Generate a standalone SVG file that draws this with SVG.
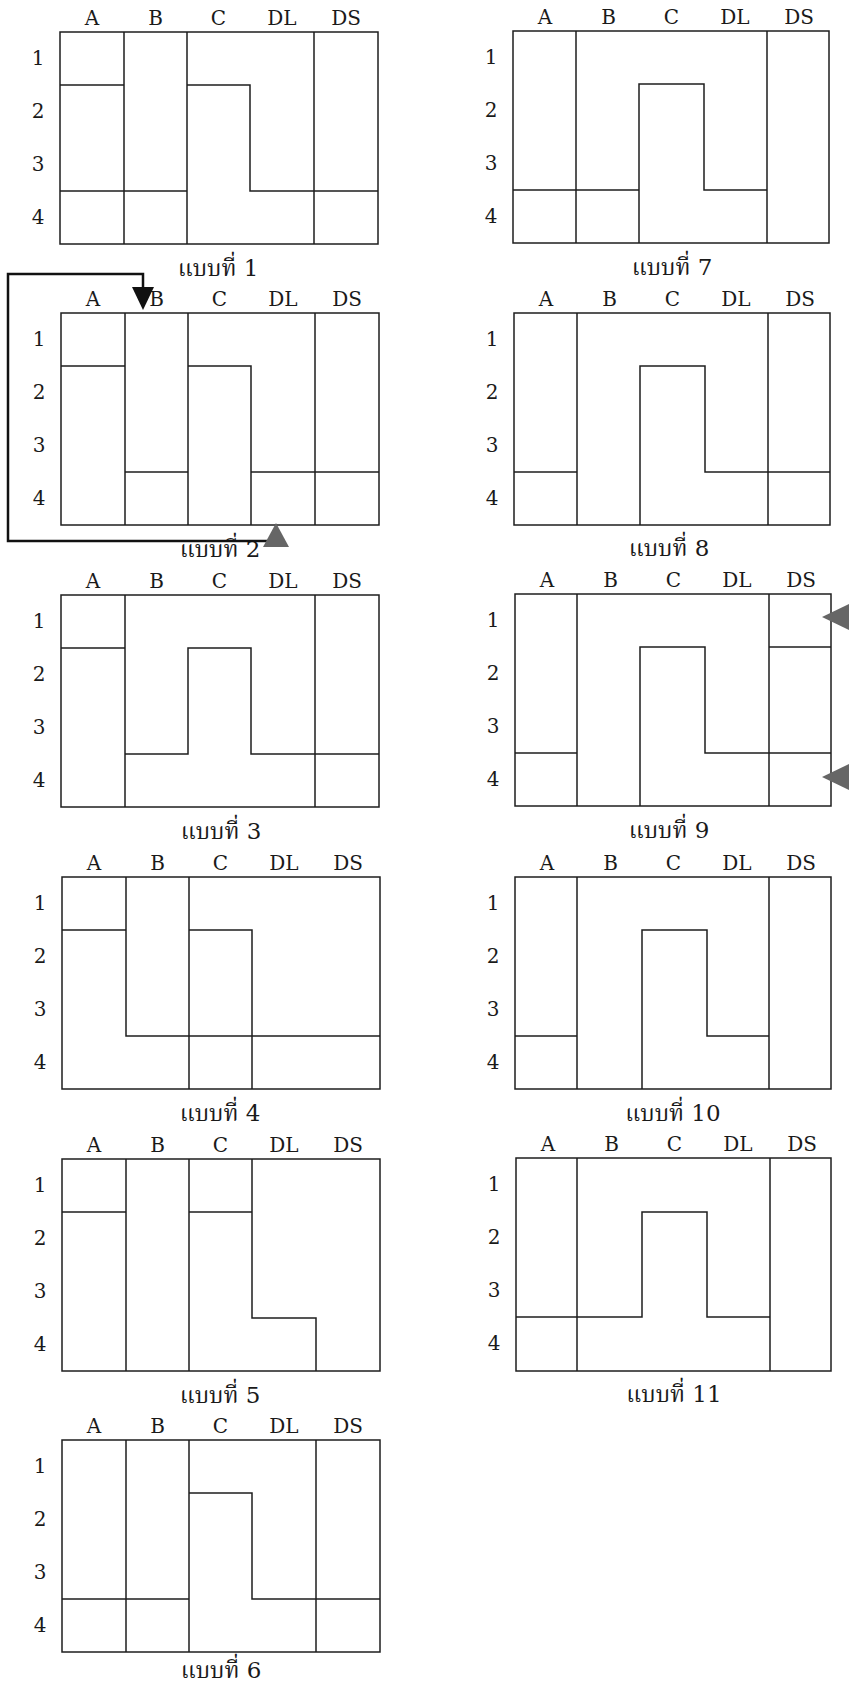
<svg xmlns="http://www.w3.org/2000/svg" width="849" height="1692" viewBox="0 0 849 1692">
<style>
.g{fill:none;stroke:#1e1e1e;stroke-width:1.5}
.h{font-family:"DejaVu Serif","Liberation Serif",serif;font-size:20px;fill:#1a1a1a;text-anchor:middle}
.cap{font-family:"DejaVu Serif","Noto Serif Thai","Noto Sans Thai","Noto Sans",serif;font-size:23px;fill:#1a1a1a;text-anchor:middle}
.arr{fill:none;stroke:#111;stroke-width:2.5}
</style>
<defs>
<g id="labels">
<text class="h" x="32" y="-7">A</text>
<text class="h" x="95.5" y="-7">B</text>
<text class="h" x="158.5" y="-7">C</text>
<text class="h" x="222" y="-7">DL</text>
<text class="h" x="286" y="-7">DS</text>
<text class="h" x="-22" y="33">1</text>
<text class="h" x="-22" y="86">2</text>
<text class="h" x="-22" y="139">3</text>
<text class="h" x="-22" y="192">4</text>
</g>
</defs>
<rect width="849" height="1692" fill="#fff"/>

<g id="p1" transform="translate(60,32)">
<use href="#labels"/>
<rect class="g" width="318" height="212"/>
<path class="g" d="M64 0V212M127 0V212M254 0V212M0 53H64M0 159H127M127 53H190V159H254M254 159H318"/>
<text class="cap" x="158" y="244">แบบที่ 1</text>
</g>

<g id="p2" transform="translate(61,313)">
<use href="#labels"/>
<rect class="g" width="318" height="212"/>
<path class="g" d="M64 0V212M127 0V212M254 0V212M0 53H64M64 159H127M127 53H190V212M190 159H318"/>
<text class="cap" x="159" y="244">แบบที่ 2</text>
</g>

<g id="p3" transform="translate(61,595)">
<use href="#labels"/>
<rect class="g" width="318" height="212"/>
<path class="g" d="M64 0V212M0 53H64M64 159H127V53H190V159H318M254 0V212"/>
<text class="cap" x="160" y="244">แบบที่ 3</text>
</g>

<g id="p4" transform="translate(62,877)">
<use href="#labels"/>
<rect class="g" width="318" height="212"/>
<path class="g" d="M64 0V159H127M0 53H64M127 0V212M127 53H190V212M127 159H318"/>
<text class="cap" x="158" y="244">แบบที่ 4</text>
</g>

<g id="p5" transform="translate(62,1159)">
<use href="#labels"/>
<rect class="g" width="318" height="212"/>
<path class="g" d="M64 0V212M0 53H64M127 0V212M127 53H190M190 0V159H254V212"/>
<text class="cap" x="158" y="244">แบบที่ 5</text>
</g>

<g id="p6" transform="translate(62,1440)">
<use href="#labels"/>
<rect class="g" width="318" height="212"/>
<path class="g" d="M64 0V212M127 0V212M254 0V212M0 159H127M127 53H190V159H318"/>
<text class="cap" x="159" y="238">แบบที่ 6</text>
</g>

<g id="p7" transform="translate(513,31)">
<use href="#labels"/>
<rect class="g" width="316" height="212"/>
<path class="g" d="M63 0V212M0 159H126M126 212V53H191V159H254M254 0V212"/>
<text class="cap" x="159" y="244">แบบที่ 7</text>
</g>

<g id="p8" transform="translate(514,313)">
<use href="#labels"/>
<rect class="g" width="316" height="212"/>
<path class="g" d="M63 0V212M0 159H63M126 212V53H191V159H316M254 0V212"/>
<text class="cap" x="155" y="243">แบบที่ 8</text>
</g>

<g id="p9" transform="translate(515,594)">
<use href="#labels"/>
<rect class="g" width="316" height="212"/>
<path class="g" d="M62 0V212M0 159H62M125 212V53H190V159H316M254 0V212M254 53H316"/>
<text class="cap" x="154" y="244">แบบที่ 9</text>
</g>

<g id="p10" transform="translate(515,877)">
<use href="#labels"/>
<rect class="g" width="316" height="212"/>
<path class="g" d="M62 0V212M0 159H62M127 212V53H192V159H254M254 0V212"/>
<text class="cap" x="158" y="244">แบบที่ 10</text>
</g>

<g id="p11" transform="translate(516,1158)">
<use href="#labels"/>
<rect class="g" width="315" height="213"/>
<path class="g" d="M61 0V213M0 159H126V54H191V159H254M254 0V213"/>
<text class="cap" x="158" y="244">แบบที่ 11</text>
</g>

<g id="connectors">
<path class="arr" d="M267 541H8V274H143V290"/>
<polygon points="132,287 154,287 143,310" fill="#111"/>
<polygon points="276,523 289,547 263,547" fill="#666"/>
<polygon points="822,617 849,604 849,630" fill="#666"/>
<polygon points="822,777 849,764 849,790" fill="#666"/>
</g>
</svg>
